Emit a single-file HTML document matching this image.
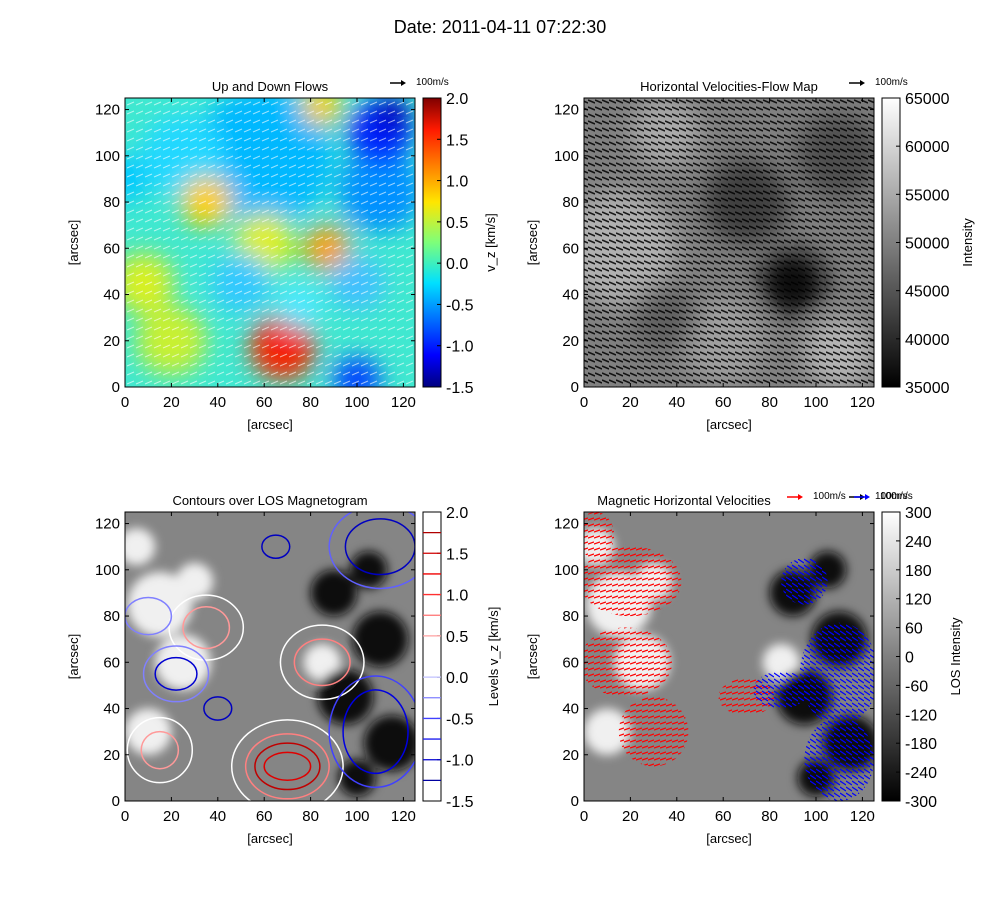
<!DOCTYPE html>
<html><head><meta charset="utf-8"><style>
body{margin:0;background:#fff;font-family:"Liberation Sans",sans-serif}
svg text{font-family:"Liberation Sans",sans-serif}
</style></head><body>
<svg id="fig" width="1000" height="900" viewBox="0 0 1000 900" xmlns="http://www.w3.org/2000/svg">
<defs>
<filter id="blur" x="-50%" y="-50%" width="200%" height="200%"><feGaussianBlur stdDeviation="12"/></filter>
<filter id="blur2" x="-50%" y="-50%" width="200%" height="200%"><feGaussianBlur stdDeviation="5"/></filter>
<linearGradient id="jet" x1="0" y1="1" x2="0" y2="0">
<stop offset="0" stop-color="#00007f"/><stop offset="0.11" stop-color="#0000ff"/><stop offset="0.36" stop-color="#00e0ff"/><stop offset="0.5" stop-color="#7dff7a"/><stop offset="0.64" stop-color="#ffe600"/><stop offset="0.89" stop-color="#ff1a00"/><stop offset="1" stop-color="#7f0000"/></linearGradient>
<linearGradient id="gray" x1="0" y1="1" x2="0" y2="0"><stop offset="0" stop-color="#000"/><stop offset="1" stop-color="#fff"/></linearGradient>
<pattern id="wq" width="9" height="9" patternUnits="userSpaceOnUse"><line x1="1" y1="6" x2="8" y2="3" stroke="#fff" stroke-width="1" opacity="0.6"/></pattern>
<pattern id="bq" width="7" height="7" patternUnits="userSpaceOnUse"><line x1="0" y1="2" x2="7" y2="5" stroke="#000" stroke-width="1.5"/></pattern>
<pattern id="rq" width="6" height="6" patternUnits="userSpaceOnUse"><line x1="0" y1="4" x2="6" y2="2" stroke="#f00" stroke-width="1.2"/></pattern>
<pattern id="blq" width="6" height="6" patternUnits="userSpaceOnUse"><line x1="0" y1="1" x2="6" y2="5" stroke="#00f" stroke-width="1.2"/></pattern>
</defs>
<text x="500" y="33" font-size="18" text-anchor="middle">Date: 2011-04-11 07:22:30</text>
</svg>
<script>
const xTicks=[0,20,40,60,80,100,120];
const yTicks=[0,20,40,60,80,100,120];
const vzTicks=["2.0","1.5","1.0","0.5","0.0","-0.5","-1.0","-1.5"];
const intTicks=["65000","60000","55000","50000","45000","40000","35000"];
const losTicks=["300","240","180","120","60","0","-60","-120","-180","-240","-300"];
const levelRed=[1.75,1.5,1.25,1.0,0.75,0.5];
const levelBlue=[0.0,-0.25,-0.5,-0.75,-1.0,-1.25];
const flowBlobs=[[60,100,30,"#00b8ff"],[25,100,18,"#20d8ff"],[110,85,18,"#0090ff"],[35,80,11,"#ffd000"],[60,62,13,"#e0f000"],[87,60,10,"#ffa000"],[8,45,13,"#d8f020"],[20,20,15,"#c8f030"],[85,122,9,"#f8d000"],[50,45,13,"#30c8ff"],[68,17,14,"#ff3000"],[68,17,7,"#f00000"],[110,110,14,"#0020ff"],[115,118,8,"#0000c0"],[100,3,10,"#0040ff"],[100,45,12,"#40c0ff"],[75,35,10,"#50e8ff"],[0,90,10,"#00c8ff"]];
const intBlobs=[[15,60,25,"#b0b0b0"],[60,20,18,"#a0a0a0"],[110,15,15,"#b5b5b5"],[90,45,14,"#101010"],[70,80,18,"#404040"],[110,100,18,"#505050"],[35,110,15,"#aaa"],[35,30,14,"#606060"]];
const magWhite=[[15,85,14],[25,60,12],[10,30,10],[30,95,8],[85,60,8],[5,110,8]];
const magBlack=[[95,45,12],[110,70,12],[90,90,10],[115,25,12],[100,10,8],[105,100,8]];
const contours=[[70,15,14,10,"#c00000"],[70,15,10,6,"#e00000"],[70,15,18,14,"#ff8080"],[70,15,24,20,"#fff"],[35,75,10,9,"#ff9999"],[35,75,16,14,"#fff"],[85,60,12,10,"#ff8080"],[85,60,18,16,"#fff"],[15,22,8,8,"#ff9999"],[15,22,14,14,"#fff"],[108,30,14,18,"#0000e0"],[108,30,20,24,"#4040ff"],[110,110,15,12,"#0000c0"],[110,110,22,18,"#6060ff"],[22,55,9,7,"#0000d0"],[22,55,14,12,"#8080ff"],[40,40,6,5,"#0000c0"],[65,110,6,5,"#0000c0"],[10,80,10,8,"#8080ff"]];
const redVec=[[20,95,22,15],[18,60,20,15],[30,30,15,15],[70,45,12,8],[5,115,8,10]];
const blueVec=[[110,55,17,22],[110,18,15,18],[95,95,10,10],[85,48,12,8]];

const NS="http://www.w3.org/2000/svg",svg=document.getElementById('fig');
function el(t,a,p){const e=document.createElementNS(NS,t);for(const k in a)e.setAttribute(k,a[k]);(p||svg).appendChild(e);return e;}
const panels=[{x0:125,y0:98,t:"Up and Down Flows"},{x0:584,y0:98,t:"Horizontal Velocities-Flow Map"},{x0:125,y0:512,t:"Contours over LOS Magnetogram"},{x0:584,y0:512,t:"Magnetic Horizontal Velocities"}];
const W=290,H=289;
panels.forEach((p,i)=>{
 const sx=v=>p.x0+v*W/125, sy=v=>p.y0+H-v*H/125, sr=v=>v*W/125;
 const cp=el('clipPath',{id:'c'+i});el('rect',{x:p.x0,y:p.y0,width:W,height:H},cp);
 const g=el('g',{'clip-path':'url(#c'+i+')'});
 
 if(i==0){
  el('rect',{x:p.x0,y:p.y0,width:W,height:H,fill:"#40e8d0"},g);
  const bg=el('g',{filter:'url(#blur)'},g);
  flowBlobs.forEach(b=>{const c=el('circle',{cx:sx(b[0]),cy:sy(b[1]),r:sr(b[2]),fill:b[3]},bg);});
  el('rect',{x:p.x0,y:p.y0,width:W,height:H,fill:"url(#wq)"},g);
 }else if(i==1){
  el('rect',{x:p.x0,y:p.y0,width:W,height:H,fill:"#808080"},g);
  const bg=el('g',{filter:'url(#blur)'},g);
  intBlobs.forEach(b=>{const c=el('circle',{cx:sx(b[0]),cy:sy(b[1]),r:sr(b[2]),fill:b[3]},bg);});
  el('rect',{x:p.x0,y:p.y0,width:W,height:H,fill:"url(#bq)",opacity:0.85},g);
 }else{
  el('rect',{x:p.x0,y:p.y0,width:W,height:H,fill:"#858585"},g);
  const bg=el('g',{filter:'url(#blur2)'},g);
  magWhite.forEach(b=>{const c=el('circle',{cx:sx(b[0]),cy:sy(b[1]),r:sr(b[2]),fill:"#f0f0f0"},bg);});
  magBlack.forEach(b=>{const c=el('circle',{cx:sx(b[0]),cy:sy(b[1]),r:sr(b[2]),fill:"#101010"},bg);});
  if(i==2){
   contours.forEach(c=>{const e=el('ellipse',{cx:sx(c[0]),cy:sy(c[1]),rx:sr(c[2]),ry:sr(c[3]),fill:"none",stroke:c[4],'stroke-width':1.5},g);});
  }else{
   redVec.forEach(v=>{const e=el('ellipse',{cx:sx(v[0]),cy:sy(v[1]),rx:sr(v[2]),ry:sr(v[3]),fill:"url(#rq)"},g);});
   blueVec.forEach(v=>{const e=el('ellipse',{cx:sx(v[0]),cy:sy(v[1]),rx:sr(v[2]),ry:sr(v[3]),fill:"url(#blq)"},g);});
  }
 }
 const fr=el('rect',{x:p.x0,y:p.y0,width:W,height:H,fill:"none",stroke:"#000"});
 
 const t=el('text',{x:i==3?p.x0+W/2-45:p.x0+W/2,y:p.y0-7,'font-size':13,'text-anchor':'middle'});t.textContent=p.t;
 
 xTicks.forEach(v=>{el('line',{x1:sx(v),x2:sx(v),y1:p.y0+H,y2:p.y0+H-4,stroke:"#000"});el('line',{x1:sx(v),x2:sx(v),y1:p.y0,y2:p.y0+4,stroke:"#000"});
  const tx=el('text',{x:sx(v),y:p.y0+H+20,'font-size':15,'text-anchor':'middle'});tx.textContent=v;});
 yTicks.forEach(v=>{el('line',{x1:p.x0,x2:p.x0+4,y1:sy(v),y2:sy(v),stroke:"#000"});el('line',{x1:p.x0+W,x2:p.x0+W-4,y1:sy(v),y2:sy(v),stroke:"#000"});
  const tx=el('text',{x:p.x0-5,y:sy(v)+5,'font-size':15,'text-anchor':'end'});tx.textContent=v;});
 const xl=el('text',{x:p.x0+W/2,y:p.y0+H+42,'font-size':13,'text-anchor':'middle'});xl.textContent="[arcsec]";
 const yl=el('text',{x:p.x0-47,y:p.y0+H/2,'font-size':13,'text-anchor':'middle',transform:`rotate(-90 ${p.x0-47} ${p.y0+H/2})`});yl.textContent="[arcsec]";
 const cx=p.x0+W+8, cw=18;
 const fill=i==0?"url(#jet)":i==2?"#fff":"url(#gray)";
 const cb=el('rect',{x:cx,y:p.y0,width:cw,height:H,fill:fill,stroke:"#000"});
 
 const ticks=i==1?intTicks:i==3?losTicks:vzTicks;
 ticks.forEach((s,k)=>{const y=p.y0+k*H/(ticks.length-1);el('line',{x1:cx+cw-4,x2:cx+cw,y1:y,y2:y,stroke:"#000"});
  const tx=el('text',{x:cx+cw+5,y:y+6,'font-size':16});tx.textContent=s;});
 if(i==2){
  const lv=v=>p.y0+(2.0-v)*H/3.5;
  levelRed.forEach((v,k)=>{const l=el('line',{x1:cx,x2:cx+cw,y1:lv(v),y2:lv(v),stroke:["#b00000","#d00000","#f00000","#ff3030","#ff7070","#ffa0a0"][k],'stroke-width':1.3});});
  levelBlue.forEach((v,k)=>{const l=el('line',{x1:cx,x2:cx+cw,y1:lv(v),y2:lv(v),stroke:["#c0c0ff","#8080ff","#4040ff","#2020f0","#0000d0","#0000a0"][k],'stroke-width':1.3});});
 }
 const lbl=["v_z [km/s]","Intensity","Levels v_z [km/s]","LOS Intensity"][i];
 const lx=i==1?972:i==3?960:i==2?498:495;
 const cl=el('text',{x:lx,y:p.y0+H/2,'font-size':13,'text-anchor':'middle',transform:`rotate(-90 ${lx} ${p.y0+H/2})`});cl.textContent=lbl;
 
 const keys=i==3?[[787,"#f00"],[854,"#00f"]]:[[i==0?390:849,"#000"]];
 keys.forEach(k=>{const g2=el('g',{});
  el('line',{x1:k[0],x2:k[0]+12,y1:p.y0-15,y2:p.y0-15,stroke:k[1],'stroke-width':1.5},g2);
  el('path',{d:`M${k[0]+16} ${p.y0-15} l-5 -3 v6z`,fill:k[1]},g2);
  const tx=el('text',{x:k[0]+26,y:p.y0-13,'font-size':10,'font-family':'Liberation Serif'},g2);tx.textContent="100m/s";});
});
</script>
</body></html>
